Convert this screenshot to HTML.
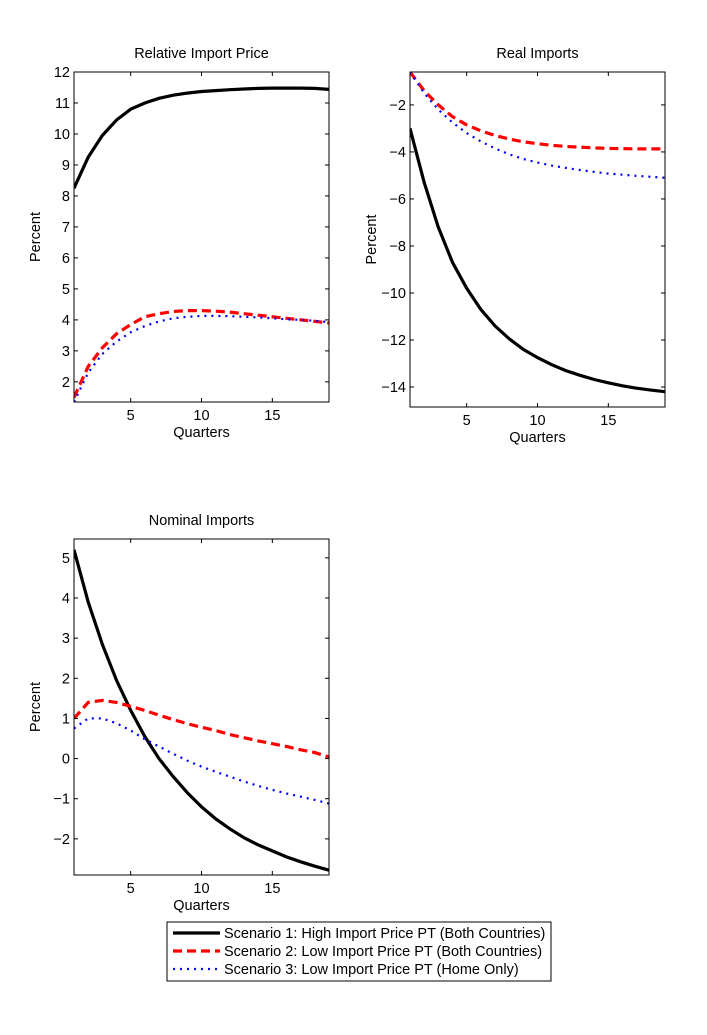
<!DOCTYPE html>
<html><head><meta charset="utf-8"><style>
body{margin:0;background:#fff;}
svg text{font-family:"Liberation Sans",Arial,sans-serif;font-size:14.5px;fill:#000;}
</style></head><body>
<svg id="fig" width="707" height="1030" viewBox="0 0 707 1030"></svg>
<script>
const quarters=[1,2,3,4,5,6,7,8,9,10,11,12,13,14,15,16,17,18,19];
const relPriceS1=[8.25,9.25,9.95,10.45,10.8,11.0,11.15,11.25,11.32,11.37,11.4,11.43,11.45,11.47,11.48,11.48,11.48,11.47,11.44];
const relPriceS2=[1.5,2.5,3.1,3.55,3.85,4.1,4.2,4.27,4.3,4.3,4.28,4.25,4.2,4.15,4.1,4.05,4.0,3.95,3.9];
const relPriceS3=[1.35,2.3,2.9,3.3,3.6,3.8,3.95,4.05,4.1,4.13,4.13,4.12,4.1,4.08,4.05,4.02,4.0,3.97,3.93];
const realImpS1=[-3.0,-5.3,-7.2,-8.7,-9.8,-10.7,-11.4,-11.95,-12.4,-12.75,-13.05,-13.3,-13.5,-13.68,-13.82,-13.95,-14.05,-14.13,-14.2];
const realImpS2=[-0.6,-1.4,-2.0,-2.5,-2.85,-3.1,-3.3,-3.45,-3.57,-3.65,-3.72,-3.77,-3.8,-3.83,-3.85,-3.86,-3.87,-3.87,-3.87];
const realImpS3=[-0.6,-1.5,-2.2,-2.75,-3.2,-3.55,-3.85,-4.1,-4.3,-4.45,-4.58,-4.68,-4.77,-4.85,-4.92,-4.97,-5.02,-5.06,-5.1];
const nomImpS1=[5.2,3.9,2.85,1.95,1.2,0.55,0.0,-0.45,-0.85,-1.2,-1.5,-1.75,-1.97,-2.15,-2.3,-2.45,-2.57,-2.68,-2.78];
const nomImpS2=[1.0,1.4,1.45,1.4,1.3,1.2,1.08,0.97,0.87,0.78,0.7,0.6,0.52,0.44,0.37,0.3,0.22,0.15,0.04];
const nomImpS3=[0.75,1.0,1.0,0.88,0.7,0.48,0.3,0.12,-0.05,-0.2,-0.33,-0.45,-0.57,-0.68,-0.78,-0.87,-0.95,-1.03,-1.12];
const xTicks=[5,10,15];
const relTicks=[2,3,4,5,6,7,8,9,10,11,12];
const realTicks=[-14,-12,-10,-8,-6,-4,-2];
const nomTicks=[-2,-1,0,1,2,3,4,5];
const legendLabels=["Scenario 1: High Import Price PT (Both Countries)","Scenario 2: Low Import Price PT (Both Countries)","Scenario 3: Low Import Price PT (Home Only)"];

const NS="http://www.w3.org/2000/svg";
const svg=document.getElementById('fig');
function mk(tag,attrs,parent){const e=document.createElementNS(NS,tag);for(const k in attrs)e.setAttribute(k,attrs[k]);(parent||svg).appendChild(e);return e;}
const styles=[{stroke:'#000',w:3.2,dash:''},{stroke:'#f00',w:3.2,dash:'9,5'},{stroke:'#00f',w:2.2,dash:'2,5'}];

function panel(name,title,L,R,T,B,ymin,ymax,yTicks,series){
  const g=mk('g',{});
  
  
  const xs=v=>L+(v-1)/(19-1)*(R-L);
  const ys=v=>B-(v-ymin)/(ymax-ymin)*(B-T);
  const cp='cp-'+name;
  const cpe=mk('clipPath',{id:cp},g);mk('rect',{x:L,y:T,width:R-L,height:B-T},cpe);
  const t=mk('text',{x:(L+R)/2,y:T-14,'text-anchor':'middle'},g);t.textContent=title;
  
  
  series.forEach((s,i)=>{
    const d=s.map((v,j)=>(j?'L':'M')+xs(quarters[j]).toFixed(1)+','+ys(v).toFixed(1)).join('');
    const p=mk('path',{d:d,fill:'none',stroke:styles[i].stroke,'stroke-width':styles[i].w,'stroke-dasharray':styles[i].dash,'clip-path':'url(#'+cp+')'},g);
    
    
  });
  const box=mk('rect',{x:L,y:T,width:R-L,height:B-T,fill:'none',stroke:'#000','stroke-width':1},g);
  
  
  xTicks.forEach(v=>{const x=xs(v);
    mk('line',{x1:x,x2:x,y1:B,y2:B-4,stroke:'#000'},g);mk('line',{x1:x,x2:x,y1:T,y2:T+4,stroke:'#000'},g);
    const tx=mk('text',{x:x,y:B+18,'text-anchor':'middle'},g);tx.textContent=v;
    
    
  });
  yTicks.forEach(v=>{const y=ys(v);
    mk('line',{x1:L,x2:L+4,y1:y,y2:y,stroke:'#000'},g);mk('line',{x1:R,x2:R-4,y1:y,y2:y,stroke:'#000'},g);
    const ty=mk('text',{x:L-4,y:y+5,'text-anchor':'end'},g);ty.textContent=String(v).replace('-','\u2212');
    
    
  });
  const xl=mk('text',{x:(L+R)/2,y:B+35,'text-anchor':'middle'},g);xl.textContent='Quarters';
  
  
  const yx=L-34, yy=(T+B)/2;
  const yl=mk('text',{x:yx,y:yy,'text-anchor':'middle',transform:'rotate(-90 '+yx+' '+yy+')'},g);yl.textContent='Percent';
  
  
}
panel('relative-import-price-panel','Relative Import Price',74,329,72,402,1.35,12,relTicks,[relPriceS1,relPriceS2,relPriceS3]);
panel('real-imports-panel','Real Imports',410,665,72,407,-14.85,-0.6,realTicks,[realImpS1,realImpS2,realImpS3]);
panel('nominal-imports-panel','Nominal Imports',74,329,539,875,-2.9,5.47,nomTicks,[nomImpS1,nomImpS2,nomImpS3]);

const lg=mk('g',{});


mk('rect',{x:167,y:922,width:384,height:59,fill:'#fff',stroke:'#000'},lg);
legendLabels.forEach((lab,i)=>{
  const y=933+i*18;
  const e=mk('g',{},lg);
  
  
  mk('line',{x1:173,x2:220,y1:y,y2:y,stroke:styles[i].stroke,'stroke-width':styles[i].w,'stroke-dasharray':styles[i].dash},e);
  const t=mk('text',{x:224,y:y+5},e);t.textContent=lab;
});
</script>
</body></html>
